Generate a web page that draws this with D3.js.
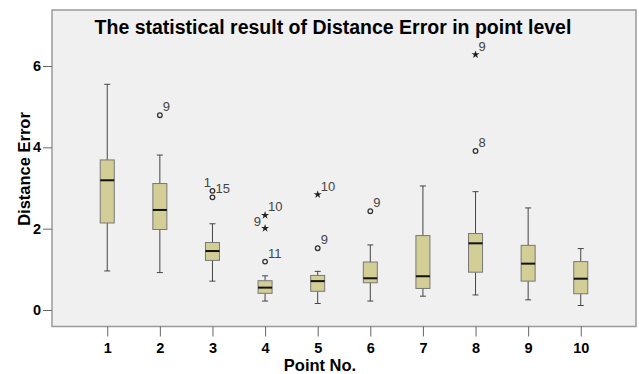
<!DOCTYPE html>
<html>
<head>
<meta charset="utf-8">
<script src="https://cdn.jsdelivr.net/npm/d3@7"></script>
<style>
  body { margin: 0; background: #fff; }
  text { font-family: "Liberation Sans", Arial, sans-serif; }
</style>
</head>
<body>
<div id="chart"></div>
<script>
// box statistics per point
const points = ['1', '2', '3', '4', '5', '6', '7', '8', '9', '10'];
const whiskerLow  = [0.96, 0.92, 0.71, 0.22, 0.16, 0.22, 0.34, 0.37, 0.25, 0.11];
const q1          = [2.14, 1.98, 1.22, 0.41, 0.46, 0.67, 0.53, 0.93, 0.71, 0.40];
const median      = [3.19, 2.46, 1.45, 0.55, 0.71, 0.78, 0.83, 1.64, 1.14, 0.77];
const q3          = [3.69, 3.11, 1.66, 0.72, 0.85, 1.18, 1.83, 1.88, 1.59, 1.19];
const whiskerHigh = [5.55, 3.81, 2.12, 0.84, 0.95, 1.60, 3.05, 2.91, 2.51, 1.51];

// outliers: point, value, case label, kind (o = outlier, s = extreme)
const outPoint = ['2', '3', '3', '4', '4', '4', '5', '5', '6', '8', '8'];
const outValue = [4.79, 2.93, 2.77, 1.19, 2.01, 2.33, 1.52, 2.84, 2.43, 3.91, 6.28];
const outLabel = ['9', '1', '15', '11', '9', '10', '9', '10', '9', '8', '9'];
const outKind  = ['o', 'o', 'o', 'o', 's', 's', 'o', 's', 'o', 'o', 's'];

const yTicks = [0, 2, 4, 6];

const W = 639, H = 374;
const margin = {top: 10, right: 3, bottom: 48, left: 52};

const svg = d3.select('#chart').append('svg')
  .attr('width', W)
  .attr('height', H);

const x = d3.scalePoint().domain(points)
  .range([margin.left, W - margin.right])
  .padding(1.05);
const y = d3.scaleLinear().domain([0, 6])
  .range([310, 66]);

const plotBottom = H - margin.bottom + 0.5;

// plot background
svg.append('rect')
  .attr('x', margin.left)
  .attr('y', margin.top)
  .attr('width', W - margin.right - margin.left)
  .attr('height', plotBottom - margin.top)
  .attr('fill', '#f0f0f0')
  .attr('stroke', '#9a9a9a')
  .attr('stroke-width', 1.5);

// title
svg.append('text')
  .attr('x', 333)
  .attr('y', 34)
  .attr('text-anchor', 'middle')
  .style('font-size', '19.5px')
  .style('font-weight', 'bold')
  .text('The statistical result of Distance Error in point level');

// y axis
const yAxis = svg.append('g')
  .attr('transform', `translate(${margin.left},0)`)
  .call(d3.axisLeft(y).tickValues(yTicks).tickSize(9).tickPadding(2).tickFormat(d3.format('d')));
yAxis.select('.domain').remove();
yAxis.selectAll('line').attr('stroke', '#666');
yAxis.selectAll('text')
  .style('font-size', '14.5px')
  .style('font-weight', 'bold')
  .attr('fill', '#000');

// x axis
const xAxis = svg.append('g')
  .attr('transform', `translate(0,${plotBottom})`)
  .call(d3.axisBottom(x).tickSize(10).tickPadding(6));
xAxis.select('.domain').remove();
xAxis.selectAll('line').attr('stroke', '#666');
xAxis.selectAll('text')
  .style('font-size', '14.5px')
  .style('font-weight', 'bold')
  .attr('fill', '#000');

// axis titles
svg.append('text')
  .attr('x', 320)
  .attr('y', 371)
  .attr('text-anchor', 'middle')
  .style('font-size', '16.5px')
  .style('font-weight', 'bold')
  .text('Point No.');

svg.append('text')
  .attr('transform', 'translate(30,169) rotate(-90)')
  .attr('text-anchor', 'middle')
  .style('font-size', '16.5px')
  .style('font-weight', 'bold')
  .text('Distance Error');

// boxes
const boxW = 14, capW = 6;
const boxes = points.map((p, i) => ({p, lo: whiskerLow[i], q1: q1[i], med: median[i], q3: q3[i], hi: whiskerHigh[i]}));

const g = svg.append('g').selectAll('g')
  .data(boxes).enter().append('g');

g.append('line')
  .attr('x1', d => x(d.p)).attr('x2', d => x(d.p))
  .attr('y1', d => y(d.hi)).attr('y2', d => y(d.q3))
  .attr('stroke', '#444');
g.append('line')
  .attr('x1', d => x(d.p)).attr('x2', d => x(d.p))
  .attr('y1', d => y(d.q1)).attr('y2', d => y(d.lo))
  .attr('stroke', '#444');
g.append('line')
  .attr('x1', d => x(d.p) - capW / 2).attr('x2', d => x(d.p) + capW / 2)
  .attr('y1', d => y(d.hi)).attr('y2', d => y(d.hi))
  .attr('stroke', '#444');
g.append('line')
  .attr('x1', d => x(d.p) - capW / 2).attr('x2', d => x(d.p) + capW / 2)
  .attr('y1', d => y(d.lo)).attr('y2', d => y(d.lo))
  .attr('stroke', '#444');
g.append('rect')
  .attr('x', d => x(d.p) - boxW / 2)
  .attr('y', d => y(d.q3))
  .attr('width', boxW)
  .attr('height', d => y(d.q1) - y(d.q3))
  .attr('fill', '#d3cd96')
  .attr('stroke', '#777');
g.append('line')
  .attr('x1', d => x(d.p) - boxW / 2).attr('x2', d => x(d.p) + boxW / 2)
  .attr('y1', d => y(d.med)).attr('y2', d => y(d.med))
  .attr('stroke', '#111')
  .attr('stroke-width', 2);

// outliers
const outliers = outPoint.map((p, i) => ({p, v: outValue[i], label: outLabel[i], kind: outKind[i]}));
const og = svg.append('g');

og.selectAll('circle')
  .data(outliers.filter(d => d.kind === 'o')).enter().append('circle')
  .attr('cx', d => x(d.p))
  .attr('cy', d => y(d.v))
  .attr('r', 2.3)
  .attr('fill', 'none')
  .attr('stroke', '#333')
  .attr('stroke-width', 1.3);

og.selectAll('path')
  .data(outliers.filter(d => d.kind === 's')).enter().append('path')
  .attr('d', d3.symbol(d3.symbolStar, 20))
  .attr('transform', d => `translate(${x(d.p)},${y(d.v)})`)
  .attr('fill', '#222');

// case labels: most sit up-right; a couple sit left/above to avoid overlap
const labelPos = d => {
  if (d.p === '3' && d.label === '1') return {dx: -5, dy: -4, anchor: 'middle'};
  if (d.p === '4' && d.label === '9') return {dx: -4, dy: -2, anchor: 'end'};
  return {dx: 3, dy: -4, anchor: 'start'};
};
og.selectAll('text')
  .data(outliers).enter().append('text')
  .attr('x', d => x(d.p) + labelPos(d).dx)
  .attr('y', d => y(d.v) + labelPos(d).dy)
  .attr('text-anchor', d => labelPos(d).anchor)
  .style('font-size', '13px')
  .attr('fill', '#444')
  .text(d => d.label);
</script>
</body>
</html>
